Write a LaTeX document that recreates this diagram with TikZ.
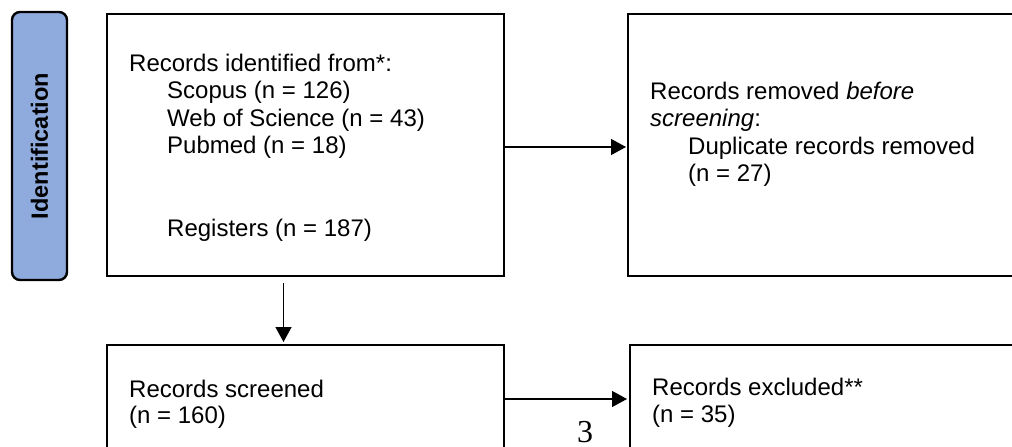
\documentclass[tikz,border=0pt]{standalone}
\usepackage{fontspec}
\setmainfont{Liberation Sans}
\newfontfamily\pagenumfont{Liberation Serif}
\usetikzlibrary{arrows.meta}
\definecolor{stageblue}{HTML}{8FAADC}
\begin{document}
\begin{tikzpicture}[x=1pt,y=-1pt,
  box/.style={draw=black,line width=2.4pt,inner sep=0pt,outer sep=0pt,fill=none},
  stage/.style={draw=black,line width=2.4pt,fill=stageblue,rounded corners=8pt,inner sep=0pt,outer sep=0pt,minimum width=55pt,minimum height=268pt},
  txt/.style={anchor=base west,inner sep=0pt,font=\fontsize{24}{27.5}\selectfont},
  arr/.style={line width=1.3pt,-{Triangle[length=15pt,width=16pt]}}]
\useasboundingbox (0,0) rectangle (1012,447);
\clip (0,0) rectangle (1012,447);
% stage label
\node[stage] (ident) at (39.5,146) {};
\node[rotate=90,inner sep=0pt,font=\fontsize{23.5}{27.5}\selectfont\bfseries] (identlabel) at (ident.center) {Identification};
% boxes
\node[box,minimum width=397pt,minimum height=262pt] (tl) at (305.5,145) {};
\node[box,minimum width=402pt,minimum height=262pt] (tr) at (829,145) {};
\node[box,minimum width=397pt,minimum height=108pt] (bl) at (305.5,399) {};
\node[box,minimum width=400pt,minimum height=108pt] (br) at (830,399) {};
% texts top-left
\node[txt] (t1) at (129,71) {Records identified from*:};
\node[txt] (t2) at (167,98.5) {Scopus (n = 126)};
\node[txt] (t3) at (167,126) {Web of Science (n = 43)};
\node[txt] (t4) at (167,153.5) {Pubmed (n = 18)};
\node[txt] (t5) at (167,236.5) {Registers (n = 187)};
% texts top-right
\node[txt] (r1) at (650,99) {Records removed \textit{before}};
\node[txt] (r2) at (650,126.5) {\textit{screening}:};
\node[txt] (r3) at (688,154) {Duplicate records removed};
\node[txt] (r4) at (688,181.5) {(n = 27)};
% texts bottom
\node[txt] (b1) at (129,397) {Records screened};
\node[txt] (b2) at (129,423.5) {(n = 160)};
\node[txt] (c1) at (652,395) {Records excluded**};
\node[txt] (c2) at (652,422) {(n = 35)};
% page number
\node[anchor=base,inner sep=0pt,font=\pagenumfont\fontsize{32}{32}\selectfont] (pagenum) at (585,442) {3};
% connectors
\draw[arr,shorten >=2pt] ([yshift=-2pt]tl.east) -- ([yshift=-2pt]tr.west);
\draw[arr,shorten <=7pt,shorten >=3pt] ([xshift=-22pt]tl.south) -- ([xshift=-22pt]bl.north);
\draw[arr,shorten >=3pt] (bl.east) -- (br.west);
\end{tikzpicture}
\end{document}
